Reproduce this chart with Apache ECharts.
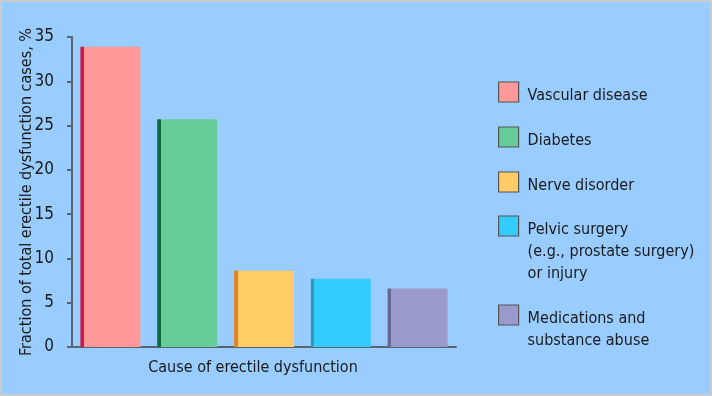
<!DOCTYPE html>
<html><head><meta charset="utf-8">
<script src="https://cdn.jsdelivr.net/npm/echarts@6/dist/echarts.min.js"></script>
<style>
html,body{margin:0;padding:0;background:#99ccff;}
#c{width:712px;height:396px;box-sizing:border-box;border:2px solid #c9ccd0;}
</style></head>
<body><div id="c"></div>
<script>
const categories = ['Vascular disease','Diabetes','Nerve disorder','Pelvic surgery\n(e.g., prostate surgery)\nor injury','Medications and\nsubstance abuse'];
const values = [33.9, 25.7, 8.6, 7.7, 6.6];
const lightColors = ['#ff9999','#66cc99','#ffcc66','#33ccff','#9999cc'];
const darkColors = ['#d4144c','#0b6b3a','#e0862a','#3399bb','#676790'];
const yTicks = [0,5,10,15,20,25,30,35];
const yTitle = 'Fraction of total erectile dysfunction cases, %';
const xTitle = 'Cause of erectile dysfunction';

const FONT = '"Liberation Sans Narrow","DejaVu Sans Condensed",sans-serif';
const chart = echarts.init(document.getElementById('c'));
const series = categories.map((name,i)=>({
  name: name,
  type:'bar',
  barWidth:60,
  barGap:'-100%',
  data: values.map((v,j)=> j===i ? v : null),
  itemStyle:{
    color:{type:'linear',x:0,y:0,x2:1,y2:0,colorStops:[
      {offset:0,color:darkColors[i]},{offset:0.06,color:darkColors[i]},
      {offset:0.06,color:lightColors[i]},{offset:1,color:lightColors[i]}]}
  },
  emphasis:{disabled:true}
}));
// blank lines + a small spacer so the first text line sits beside the legend square
const legendText = s => {
  const lines = s.split('\n');
  const blanks = lines.slice(1).map(()=>'{t| }');
  return ['{g| }'].concat(blanks, lines.map(l=>'{t|'+l+'}')).join('\n');
};
const legendTops = [75, 120, 165, 165, 276];
const legends = categories.map((name,i)=>({
  data:[{name:name, itemStyle:{color:lightColors[i], borderColor:'#555', borderWidth:1.2}}],
  left:496, top:legendTops[i], padding:0,
  itemWidth:20, itemHeight:20, itemGap:0,
  icon:'rect',
  selectedMode:false,
  formatter: legendText,
  textStyle:{fontFamily:FONT, fontSize:16, color:'#1a1a1a', lineHeight:22, padding:[0,0,0,4],
    rich:{
      g:{fontSize:8, lineHeight:8},
      t:{fontFamily:FONT, fontSize:16, color:'#1a1a1a', lineHeight:22}
    }}
}));
chart.setOption({
  backgroundColor:'#99ccff',
  animation:false,
  grid:{left:70, right:254, top:35, bottom:47, outerBoundsMode:'none', containLabel:false},
  legend: legends,
  xAxis:{
    type:'category', data:categories,
    name:xTitle, nameLocation:'middle', nameGap:13, nameMoveOverlap:false,
    nameTextStyle:{fontFamily:FONT, fontSize:16, color:'#1a1a1a', padding:[0,22,0,0]},
    axisLine:{lineStyle:{color:'#5a6470', width:2}},
    axisTick:{show:false}, axisLabel:{show:false}
  },
  yAxis:{
    type:'value', min:yTicks[0], max:yTicks[yTicks.length-1], interval:5,
    name:yTitle, nameLocation:'middle', nameGap:37, nameRotate:90, nameMoveOverlap:false,
    nameTextStyle:{fontFamily:FONT, fontSize:16, color:'#1a1a1a'},
    axisLine:{show:true, lineStyle:{color:'#5a6470', width:2}},
    axisTick:{show:true, length:5, lineStyle:{color:'#5a6470', width:2}},
    splitLine:{show:false},
    axisLabel:{fontFamily:FONT, fontSize:17, color:'#1a1a1a', margin:18}
  },
  series: series
});
</script></body></html>
